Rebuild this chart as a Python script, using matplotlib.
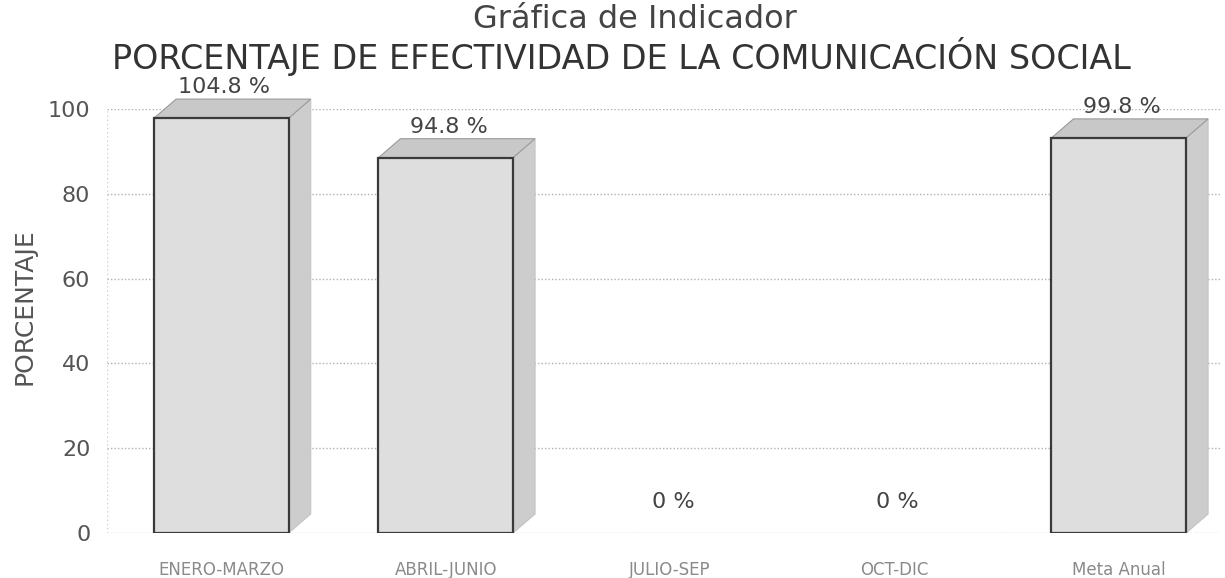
import numpy as np
import matplotlib.pyplot as plt
from matplotlib.patches import Polygon

categorias = ["ENERO-MARZO", "ABRIL-JUNIO", "JULIO-SEP", "OCT-DIC", "Meta Anual"]
valores = [104.8, 94.8, 0, 0, 99.8]
etiquetas = ["104.8 %", "94.8 %", "0 %", "0 %", "99.8 %"]
yticks = [0, 20, 40, 60, 80, 100]

W, H = 1225, 578
fig = plt.figure(figsize=(W / 100, H / 100), dpi=100)
fig.patch.set_facecolor("white")

# back wall (grid + axis labels)
rect = [107 / W, 1 - 533 / H, (1222 - 107) / W, (533 - 109) / H]
ax = fig.add_axes(rect)
ax.set_xlim(-0.51, 4.46)
ax.set_ylim(0, 100)
ax.set_yticks(yticks)
ax.set_xticks(range(len(categorias)))
ax.set_xticklabels(categorias, fontsize=12, color="#8a8a8a")
ax.tick_params(axis="y", length=0, pad=12, labelsize=16, labelcolor="#555555")
ax.tick_params(axis="x", length=0, pad=20)
ax.grid(axis="y", color="#b0b0b0", linestyle=(0, (1, 1.5)), linewidth=1)
for s in ax.spines.values():
    s.set_visible(False)
ax.axvline(-0.51, color="#d0d0d0", linestyle=(0, (1, 2)), linewidth=1)

# front plane (bars), foreshortened scale
axb = fig.add_axes(rect)
axb.set_xlim(-0.51, 4.46)
axb.set_ylim(0, 107.1)
axb.axis("off")

x = np.arange(len(categorias))
w = 0.6
dx, dy = 0.098, 4.8  # depth of the 3D effect

for xi, v in zip(x, valores):
    if v <= 0:
        continue
    l, r = xi - w / 2, xi + w / 2
    side = Polygon([(r, 0), (r + dx, dy), (r + dx, v + dy), (r, v)],
                   closed=True, facecolor="#cdcdcd", edgecolor="#c4c4c4",
                   linewidth=0.8, clip_on=False, zorder=2)
    top = Polygon([(l, v), (l + dx, v + dy), (r + dx, v + dy), (r, v)],
                  closed=True, facecolor="#c8c8c8", edgecolor="#9a9a9a",
                  linewidth=0.8, clip_on=False, zorder=2)
    axb.add_patch(side)
    axb.add_patch(top)

bordes = ["#3a3a3a" if v > 0 else "none" for v in valores]
axb.bar(x, valores, width=w, color="#dedede", edgecolor=bordes,
        linewidth=1.6, zorder=3)

for xi, v, t in zip(x, valores, etiquetas):
    axb.annotate(t, (xi, v), xytext=(2, 15), textcoords="offset points",
                 ha="center", va="bottom", fontsize=16, color="#444444",
                 annotation_clip=False)

fig.text(635 / W, 1 - 20 / H, "Gráfica de Indicador", ha="center", va="center",
         fontsize=23, color="#444444")
fig.text(621 / W, 1 - 56 / H, "PORCENTAJE DE EFECTIVIDAD DE LA COMUNICACIÓN SOCIAL",
         ha="center", va="center", fontsize=24, color="#333333")
fig.text(25 / W, 1 - 307 / H, "PORCENTAJE", rotation=90, ha="center", va="center",
         fontsize=18, color="#555555")

fig.savefig("out.png", dpi=100)
